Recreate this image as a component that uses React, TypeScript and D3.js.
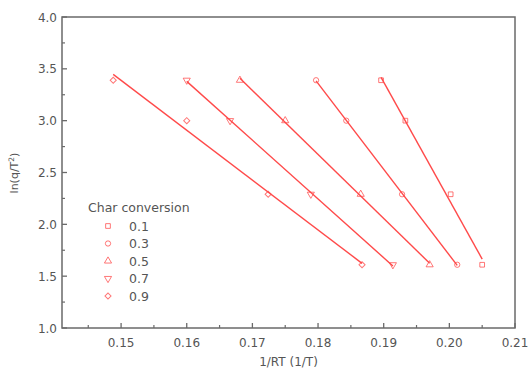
import React from "react";
import * as d3 from "d3";

const categories = ["0.1", "0.3", "0.5", "0.7", "0.9"];
const lnValues = [3.39, 3.0, 2.29, 1.61];
const xSeries01 = [0.1896, 0.1933, 0.2002, 0.205];
const xSeries03 = [0.1797, 0.1843, 0.1928, 0.2012];
const xSeries05 = [0.1681, 0.175, 0.1865, 0.197];
const xSeries07 = [0.16, 0.1666, 0.1789, 0.1914];
const xSeries09 = [0.1488, 0.16, 0.1724, 0.1867];
const xTicks = [0.15, 0.16, 0.17, 0.18, 0.19, 0.2, 0.21];
const yTicks = [1.0, 1.5, 2.0, 2.5, 3.0, 3.5, 4.0];

const W = 530;
const H = 371;
const M = { left: 62, top: 17, right: 515, bottom: 328 };
const RED = "#ff4a4a";
const AXIS = "#6a6a6a";
const TEXT = "#555";
const FONT = "'DejaVu Sans', Arial, sans-serif";

const seriesX = [xSeries01, xSeries03, xSeries05, xSeries07, xSeries09];

function markerPath(i: number): string {
  const s = 22;
  if (i === 0) return d3.symbol(d3.symbolSquare, s)()!;
  if (i === 1) return d3.symbol(d3.symbolCircle, s)()!;
  if (i === 2) return d3.symbol(d3.symbolTriangle, s)()!;
  if (i === 3) return d3.symbol(d3.symbolTriangle, s)()!;
  return d3.symbol(d3.symbolSquare, s * 0.85)()!;
}
function markerRot(i: number): number {
  if (i === 3) return 180;
  if (i === 4) return 45;
  return 0;
}

function fit(xs: number[], ys: number[]) {
  const mx = d3.mean(xs)!;
  const my = d3.mean(ys)!;
  let sxy = 0;
  let sxx = 0;
  xs.forEach((x, k) => {
    sxy += (x - mx) * (ys[k] - my);
    sxx += (x - mx) * (x - mx);
  });
  const b = sxy / sxx;
  const a = my - b * mx;
  return (x: number) => a + b * x;
}

export default function App() {
  const x = d3.scaleLinear().domain([0.141, 0.21]).range([M.left, M.right]);
  const y = d3.scaleLinear().domain([1, 4]).range([M.bottom, M.top]);
  const xMinor = d3.range(0.145, 0.21, 0.01);
  const yMinor = d3.range(1.25, 4, 0.5);
  const line = d3
    .line<[number, number]>()
    .x((d) => x(d[0]))
    .y((d) => y(d[1]));

  return (
    <svg
      width={W}
      height={H}
      style={{ position: "absolute", left: 0, top: 0, background: "#fff" }}
      fontFamily={FONT}
    >
      {seriesX.map((xs, i) => {
        const f = fit(xs, lnValues);
        const x0 = d3.min(xs)!;
        const x1 = d3.max(xs)!;
        return (
          <path
            key={"l" + i}
            d={line([
              [x0, f(x0)],
              [x1, f(x1)],
            ])!}
            stroke={RED}
            strokeWidth={1.4}
            fill="none"
          />
        );
      })}
      {seriesX.map((xs, i) =>
        xs.map((xv, k) => (
          <path
            key={"m" + i + "-" + k}
            d={markerPath(i)}
            transform={`translate(${x(xv)},${y(lnValues[k])}) rotate(${markerRot(i)})`}
            fill="none"
            stroke={RED}
            strokeWidth={1}
            opacity={0.75}
          />
        ))
      )}
      <rect
        x={M.left}
        y={M.top}
        width={M.right - M.left}
        height={M.bottom - M.top}
        fill="none"
        stroke={AXIS}
        strokeWidth={1.5}
      />
      {xTicks.map((t) => (
        <g key={"xt" + t}>
          <line x1={x(t)} x2={x(t)} y1={M.bottom} y2={M.bottom - 5} stroke={AXIS} strokeWidth={1.3} />
          <text x={x(t)} y={M.bottom + 19} textAnchor="middle" fontSize={12} fill={TEXT}>
            {t.toFixed(2)}
          </text>
        </g>
      ))}
      {xMinor.map((t) => (
        <line key={"xm" + t} x1={x(t)} x2={x(t)} y1={M.bottom} y2={M.bottom - 3} stroke={AXIS} strokeWidth={1.2} />
      ))}
      {yTicks.map((t) => (
        <g key={"yt" + t}>
          <line x1={M.left} x2={M.left + 5} y1={y(t)} y2={y(t)} stroke={AXIS} strokeWidth={1.3} />
          <text x={M.left - 5} y={y(t) + 4.5} textAnchor="end" fontSize={12} fill={TEXT}>
            {t.toFixed(1)}
          </text>
        </g>
      ))}
      {yMinor.map((t) => (
        <line key={"ym" + t} x1={M.left} x2={M.left + 3} y1={y(t)} y2={y(t)} stroke={AXIS} strokeWidth={1.2} />
      ))}
      <text x={(M.left + M.right) / 2} y={366} textAnchor="middle" fontSize={12} fill={TEXT}>
        1/RT (1/T)
      </text>
      <text transform={`translate(18,${173}) rotate(-90)`} textAnchor="middle" fontSize={11} fill={TEXT}>
        ln(q/T<tspan dy={-4} fontSize={7.5}>2</tspan>
        <tspan dy={4}>)</tspan>
      </text>
      <text x={88} y={212} fontSize={12.5} fill={TEXT}>
        Char conversion
      </text>
      {categories.map((c, i) => {
        const ly = 226 + i * 17.5;
        return (
          <g key={"lg" + c}>
            <path
              d={markerPath(i)}
              transform={`translate(108,${ly}) rotate(${markerRot(i)})`}
              fill="none"
              stroke={RED}
              strokeWidth={1}
              opacity={0.75}
            />
            <text x={129} y={ly + 4.5} fontSize={12.5} fill={TEXT}>
              {c}
            </text>
          </g>
        );
      })}
    </svg>
  );
}
